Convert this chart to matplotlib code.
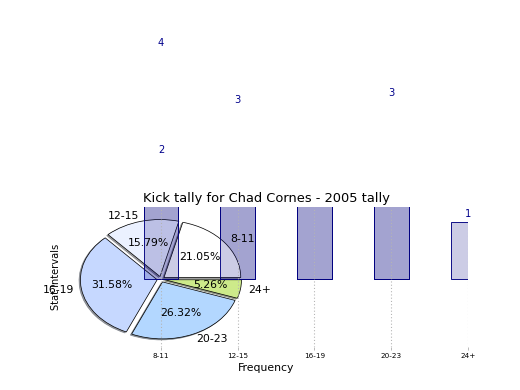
import matplotlib
matplotlib.use("Agg")
import matplotlib.pyplot as plt
import numpy as np

# ===================== DATA =====================
intervals    = ["8-11", "12-15", "16-19", "20-23", "24+"]
tally_2005   = [4, 3, 6, 5, 1]      # pie wedges + front bars
tally_back   = [2, 5, 6, 3]         # back bars (first four intervals only)
wedge_colors = ["#ffffff", "#ebf1ff", "#c6d8ff", "#b3d7ff", "#cdea8a"]

TITLE  = "Kick tally for Chad Cornes - 2005 tally"
XLABEL = "Frequency"
YLABEL = "Stat Intervals"

# ===================== PLOT =====================
fig = plt.figure(figsize=(8, 6), dpi=65)
ax = fig.add_axes([0.125, 0.11, 0.775, 0.358])

x = np.arange(len(intervals))
bar_kw = dict(width=0.45, color=(0, 0, 0.5, 0.2), edgecolor="navy", linewidth=1)

# back bars sit under the pie, front bars on top of it
back = ax.bar(x[:len(tally_back)], tally_back, **bar_kw)

wedges, texts, autotexts = ax.pie(
    tally_2005, labels=intervals, colors=wedge_colors,
    explode=[0.05] * len(tally_2005), shadow=True, autopct="%1.2f%%",
    startangle=0, frame=True,
    wedgeprops=dict(edgecolor="black", linewidth=0.8),
    textprops=dict(fontsize=12))

front = ax.bar(x, tally_2005, **bar_kw)

# value labels (not clipped, so they float above the axes)
for rect, h in zip(front, tally_2005):
    ax.text(rect.get_x() + rect.get_width() / 2, h + 0.05, "%d" % h,
            ha="center", va="bottom", color="darkblue", fontsize=11)
for rect, h in zip(back, tally_back):
    ax.text(rect.get_x() + rect.get_width() / 2, h + 0.18, "%d" % h,
            ha="center", va="bottom", color="darkblue", fontsize=11)

ax.set_aspect("auto")
ax.set_xlim(-1.25, 4)
ax.set_ylim(-1.19, 1.26)
ax.set_frame_on(False)
ax.set_xticks(x)
ax.set_xticklabels(intervals)
ax.set_yticks([])
ax.tick_params(axis="x", labelsize=8, length=3, width=1, color="#b4b4b4")
ax.xaxis.grid(True, linestyle=(0, (1, 2)), linewidth=1.2, color="#b4b4b4")

ax.set_title(TITLE, fontsize=14.4)
ax.set_xlabel(XLABEL, fontsize=12)
ax.set_ylabel(YLABEL, fontsize=11)

fig.savefig("out.png", dpi=65)
